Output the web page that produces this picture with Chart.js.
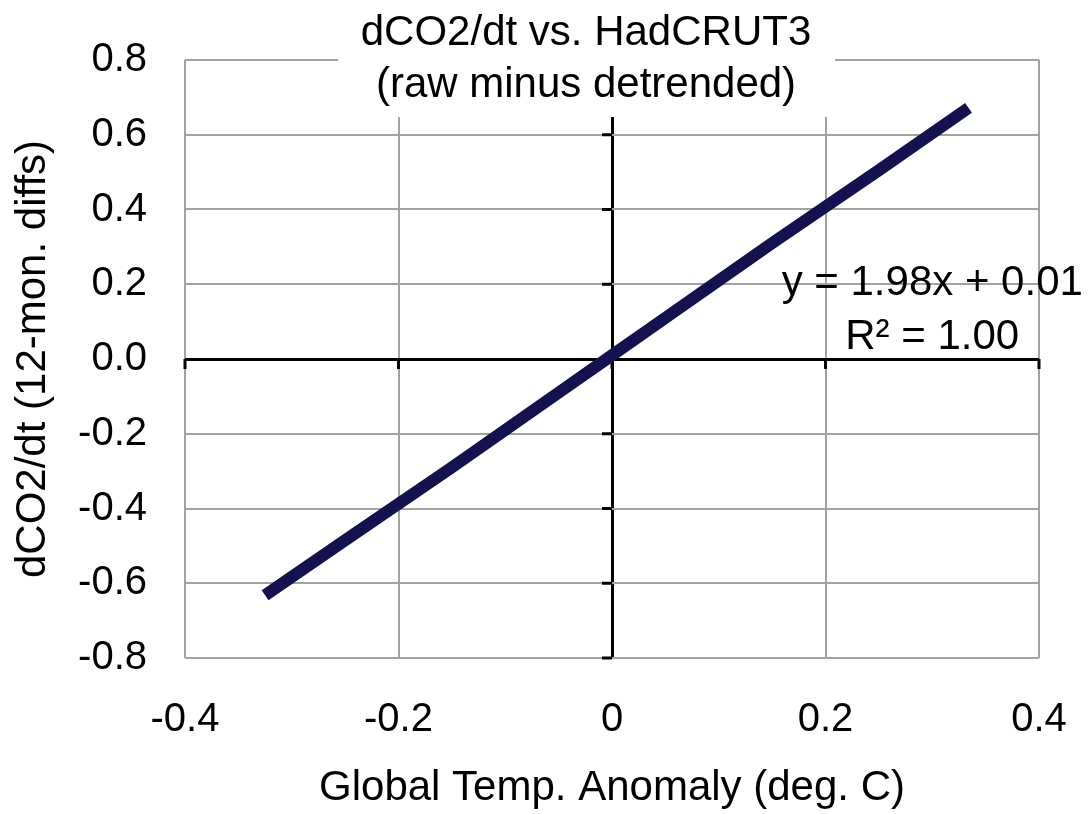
<!DOCTYPE html>
<html>
<head>
<meta charset="utf-8">
<script src="https://cdn.jsdelivr.net/npm/chart.js@4.4.1/dist/chart.umd.min.js"></script>
<style>
  html, body { margin: 0; padding: 0; background: #fff; }
  #wrap { width: 1088px; height: 814px; }
</style>
</head>
<body>
<div id="wrap"><canvas id="chart" width="1088" height="814"></canvas></div>
<script>
// ===============================
// DATA
// ===============================
const tempAnomaly = [-0.325, -0.25, -0.15, -0.05, 0.0, 0.05, 0.15, 0.25, 0.334];
const co2Diffs    = [-0.632, -0.485, -0.29, -0.09, 0.01, 0.11, 0.31, 0.505, 0.672];

const xTicks = [-0.4, -0.2, 0, 0.2, 0.4];
const yTicks = [0.8, 0.6, 0.4, 0.2, 0.0, -0.2, -0.4, -0.6, -0.8];

const titleLines = ["dCO2/dt vs. HadCRUT3", "(raw minus detrended)"];
const fitLines = ["y = 1.98x + 0.01", "R\u00b2 = 1.00"];
const xTitle = "Global Temp. Anomaly (deg. C)";
const yTitle = "dCO2/dt (12-mon. diffs)";

// ===============================
// STYLE
// ===============================
const FONT = "'Liberation Sans', Arial, sans-serif";
const GRID = "#a2a2a2";
const LINE = "#13124f";

// zero-crossing axes tick marks + title box + fit text
const overlay = {
  id: "overlay",
  beforeDatasetsDraw(chart) {
    const { ctx, scales: { x, y } } = chart;
    const x0 = x.getPixelForValue(0);
    const y0 = y.getPixelForValue(0);
    ctx.save();
    ctx.strokeStyle = "#000";
    ctx.lineWidth = 3;
    ctx.beginPath();
    yTicks.forEach(v => {
      const py = y.getPixelForValue(v);
      ctx.moveTo(x0 - 10, py);
      ctx.lineTo(x0, py);
    });
    xTicks.forEach(v => {
      const px = x.getPixelForValue(v);
      ctx.moveTo(px, y0);
      ctx.lineTo(px, y0 + 10);
    });
    ctx.stroke();
    ctx.restore();
  },
  afterDraw(chart) {
    const { ctx, scales: { x, y } } = chart;
    ctx.save();
    // title box
    ctx.fillStyle = "#fff";
    ctx.fillRect(338, 0, 497, 117);
    ctx.fillStyle = "#000";
    ctx.font = "42px " + FONT;
    ctx.textAlign = "center";
    ctx.textBaseline = "alphabetic";
    ctx.fillText(titleLines[0], 586, 45);
    ctx.fillText(titleLines[1], 586, 97);
    // trendline equation
    const fx = x.getPixelForValue(0.30);
    ctx.fillText(fitLines[0], fx, y.getPixelForValue(0.21) + 14);
    ctx.fillText(fitLines[1], fx, y.getPixelForValue(0.064) + 14);
    ctx.restore();
  }
};

const zeroColor = c => (c.tick && c.tick.value === 0 ? "#000" : GRID);
const zeroWidth = c => (c.tick && c.tick.value === 0 ? 3 : 2);

new Chart(document.getElementById("chart"), {
  type: "scatter",
  data: {
    datasets: [{
      data: tempAnomaly.map((t, i) => ({ x: t, y: co2Diffs[i] })),
      showLine: true,
      borderColor: LINE,
      borderWidth: 12,
      borderCapStyle: "butt",
      pointRadius: 0,
      tension: 0
    }]
  },
  options: {
    responsive: false,
    animation: false,
    layout: { padding: { top: 60, right: 49, left: 0, bottom: 0 } },
    plugins: { legend: { display: false }, tooltip: { enabled: false } },
    scales: {
      x: {
        type: "linear",
        min: -0.4, max: 0.4,
        afterBuildTicks: s => { s.ticks = xTicks.map(v => ({ value: v })); },
        afterFit: s => { s.height = 156; s.paddingLeft = 0; s.paddingRight = 0; },
        grid: { color: zeroColor, lineWidth: zeroWidth, drawTicks: false },
        border: { display: false },
        ticks: {
          padding: 38,
          color: "#000",
          font: { family: FONT, size: 40 },
          callback: v => (v === 0 ? "0" : String(Math.round(v * 10) / 10))
        },
        title: {
          display: true, text: xTitle, color: "#000",
          font: { family: FONT, size: 42 }, padding: { top: 0, bottom: 0 }
        }
      },
      y: {
        type: "linear",
        min: -0.8, max: 0.8,
        afterBuildTicks: s => { s.ticks = yTicks.map(v => ({ value: v })); },
        afterFit: s => { s.width = 185; s.paddingTop = 0; s.paddingBottom = 0; },
        grid: { color: zeroColor, lineWidth: zeroWidth, drawTicks: false },
        border: { display: false },
        ticks: {
          padding: 38,
          color: "#000",
          font: { family: FONT, size: 40 },
          callback: v => Number(v).toFixed(1)
        },
        title: {
          display: true, text: yTitle, color: "#000",
          font: { family: FONT, size: 42 }, padding: { top: 8, bottom: 0 }
        }
      }
    }
  },
  plugins: [overlay]
});
</script>
</body>
</html>
